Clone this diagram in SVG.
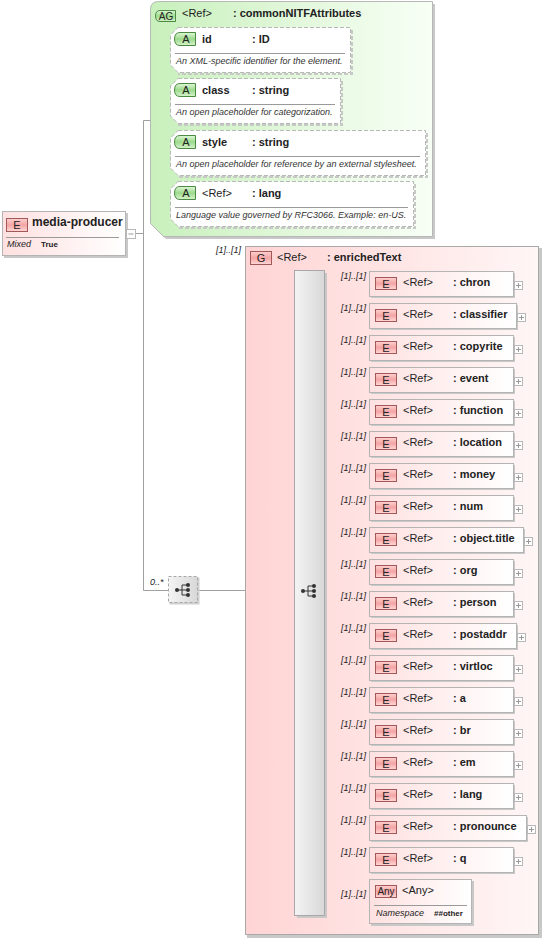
<svg xmlns="http://www.w3.org/2000/svg" width="545" height="941" viewBox="0 0 545 941">
<defs>
<linearGradient id="gAG" x1="0" y1="0" x2="1" y2="0"><stop offset="0" stop-color="#c8f0bc"/><stop offset="0.6" stop-color="#e6f9e0"/><stop offset="1" stop-color="#f8fff6"/></linearGradient>
<linearGradient id="gG" x1="0" y1="0" x2="1" y2="0"><stop offset="0" stop-color="#ffd4d4"/><stop offset="1" stop-color="#fff6f6"/></linearGradient>
<linearGradient id="gE" x1="0" y1="0" x2="1" y2="0"><stop offset="0" stop-color="#ffe0e0"/><stop offset="1" stop-color="#ffffff"/></linearGradient>
<linearGradient id="gBadge" x1="0" y1="0" x2="0" y2="1"><stop offset="0" stop-color="#ffd0d0"/><stop offset="0.5" stop-color="#f4a4a4"/><stop offset="1" stop-color="#ffd8d8"/></linearGradient>
<linearGradient id="gA" x1="0" y1="0" x2="0" y2="1"><stop offset="0" stop-color="#e0f8d8"/><stop offset="0.5" stop-color="#9cda8c"/><stop offset="1" stop-color="#d8f4cc"/></linearGradient>
<linearGradient id="gSeq" x1="0" y1="0" x2="1" y2="0"><stop offset="0" stop-color="#f4f4f4"/><stop offset="1" stop-color="#d8d8d8"/></linearGradient>
<g id="seqIcon">
<path d="M-7,0H-2V5H4M-2,0H4M-2,-5V0M-2,-5H4" fill="none" stroke="#333" stroke-width="1"/>
<circle cx="-7" cy="0" r="2" fill="#333"/>
<circle cx="4" cy="-5" r="2" fill="#333"/>
<circle cx="4" cy="0" r="2" fill="#333"/>
<circle cx="4" cy="5" r="2" fill="#333"/>
</g>
</defs>
<style>
text{font-family:"Liberation Sans",Arial,sans-serif;fill:#222}
.nm{font-size:11px;font-weight:bold}
.ref{font-size:11px}
.bt{font-size:11px;text-anchor:middle}
.mult{font-size:9px;font-style:italic}
.desc{font-size:9px;font-style:italic;fill:#333}
.small{font-size:8px;font-weight:bold}
.lbl{font-size:9px;font-style:italic}
.ln{stroke:#a0a0a0;stroke-width:1;fill:none}
.shd{fill:#c8c8c8}
.ebox{fill:url(#gE);stroke:#b4b4b4;stroke-width:1}
.badge{fill:url(#gBadge);stroke:#a05858;stroke-width:1}
.abadge{fill:url(#gA);stroke:#4c8a44;stroke-width:1}
.plus{fill:#fff;stroke:#b8b8b8;stroke-width:1}
.pl{stroke:#999;stroke-width:1}
.abox{fill:#fff;stroke:#b8b8b8;stroke-width:1;stroke-dasharray:4,2}
.ashd{fill:none;stroke:#c8c8c8;stroke-width:2;stroke-dasharray:4,2}
.sep{stroke:#9a9a9a;stroke-width:1}
</style>

<!-- connectors -->
<g id="connectors">
<path class="ln" d="M135.5,233.5H143.5M143.5,120.5V590.5M143.5,120.5H160.5M160.5,49.5V203.5M160.5,49.5H170M160.5,100.5H170M160.5,152.5H170M160.5,203.5H170M143.5,590.5H168M198,590.5H295"/>
<text class="lbl" x="150" y="585">0..*</text>
<text class="mult" x="265" y="587">[1]..[1]</text>
<path class="ln" d="M324,283.5H369M324,315.5H369M324,347.5H369M324,379.5H369M324,411.5H369M324,443.5H369M324,475.5H369M324,507.5H369M324,539.5H369M324,571.5H369M324,603.5H369M324,635.5H369M324,667.5H369M324,699.5H369M324,731.5H369M324,763.5H369M324,795.5H369M324,827.5H369M324,859.5H369M324,901.5H369"/>
</g>

<!-- media-producer -->
<g id="media-producer">
<rect class="shd" x="4" y="213" width="124" height="45"/>
<rect class="ebox" x="2.5" y="211.5" width="123" height="44"/>
<rect class="badge" x="6.5" y="218.5" width="21" height="13"/>
<text class="bt" x="17" y="229">E</text>
<text class="nm" x="32" y="226" style="font-size:12px">media-producer</text>
<line class="sep" x1="6" y1="237.5" x2="119" y2="237.5"/>
<text class="lbl" x="7" y="247">Mixed</text>
<text class="small" x="41" y="247">True</text>
<rect class="plus" x="126.5" y="229.5" width="9" height="9"/>
<path class="pl" d="M128.5,234H133.5"/>
</g>

<!-- attribute group -->
<g id="commonNITFAttributes">
<path d="M161,4H435V239H166L153,226V12Q153,4 161,4Z" fill="#c8c8c8"/>
<path d="M158.5,1.5H432.5V236.5H163.5L150.5,223.5V9.5Q150.5,1.5 158.5,1.5Z" fill="url(#gAG)" stroke="#b8b8b8"/>
<path d="M160,10.5H175.5V21.5H160Q155.5,21.5 155.5,16Q155.5,10.5 160,10.5Z" class="abadge"/>
<text class="bt" x="166" y="20" style="font-size:10px">AG</text>
<text class="ref" x="182" y="17">&lt;Ref&gt;</text>
<text class="nm" x="233" y="17">: commonNITFAttributes</text>
</g>

<g id="attr-id" transform="translate(0,27)">
<path class="ashd" d="M352,3V47H178"/>
<path class="abox" d="M178,0.5H350.5V45.5H178L170.5,38V8Z"/>
<path class="abadge" d="M180,5.5H195.5V18.5H180Q174.5,18.5 174.5,12Q174.5,5.5 180,5.5Z"/>
<text class="bt" x="186" y="16">A</text>
<text class="nm" x="202" y="16">id</text>
<text class="nm" x="252" y="16">: ID</text>
<line class="sep" x1="175" y1="26.5" x2="345" y2="26.5"/>
<text class="desc" x="176" y="37">An XML-specific identifier for the element.</text>
</g>

<g id="attr-class" transform="translate(0,78)">
<path class="ashd" d="M342,3V47H178"/>
<path class="abox" d="M178,0.5H340.5V45.5H178L170.5,38V8Z"/>
<path class="abadge" d="M180,5.5H195.5V18.5H180Q174.5,18.5 174.5,12Q174.5,5.5 180,5.5Z"/>
<text class="bt" x="186" y="16">A</text>
<text class="nm" x="202" y="16">class</text>
<text class="nm" x="252" y="16">: string</text>
<line class="sep" x1="175" y1="26.5" x2="335" y2="26.5"/>
<text class="desc" x="176" y="37">An open placeholder for categorization.</text>
</g>

<g id="attr-style" transform="translate(0,130)">
<path class="ashd" d="M427,3V47H178"/>
<path class="abox" d="M178,0.5H425.5V45.5H178L170.5,38V8Z"/>
<path class="abadge" d="M180,5.5H195.5V18.5H180Q174.5,18.5 174.5,12Q174.5,5.5 180,5.5Z"/>
<text class="bt" x="186" y="16">A</text>
<text class="nm" x="202" y="16">style</text>
<text class="nm" x="252" y="16">: string</text>
<line class="sep" x1="175" y1="26.5" x2="420" y2="26.5"/>
<text class="desc" x="176" y="37">An open placeholder for reference by an external stylesheet.</text>
</g>

<g id="attr-lang" transform="translate(0,181)">
<path class="ashd" d="M415,3V47H178"/>
<path class="abox" d="M178,0.5H413.5V45.5H178L170.5,38V8Z"/>
<path class="abadge" d="M180,5.5H195.5V18.5H180Q174.5,18.5 174.5,12Q174.5,5.5 180,5.5Z"/>
<text class="bt" x="186" y="16">A</text>
<text class="ref" x="202" y="16">&lt;Ref&gt;</text>
<text class="nm" x="252" y="16">: lang</text>
<line class="sep" x1="175" y1="26.5" x2="408" y2="26.5"/>
<text class="desc" x="176" y="37">Language value governed by RFC3066. Example: en-US.</text>
</g>

<!-- choice -->
<g id="choice">
<rect x="169.5" y="577.5" width="30" height="27" fill="#d0d0d0"/>
<rect x="168.5" y="576.5" width="29" height="26" fill="url(#gSeq)" stroke="#a8a8a8" stroke-dasharray="3,2"/>
<use href="#seqIcon" x="184" y="590"/>
</g>

<!-- enrichedText group -->
<g id="enrichedText">
<text class="mult" x="216" y="253">[1]..[1]</text>
<rect x="247" y="248" width="295" height="690" fill="#c8c8c8"/>
<rect x="245.5" y="246.5" width="293" height="688" fill="url(#gG)" stroke="#a8a8a8"/>
<rect class="badge" x="250.5" y="251.5" width="21" height="13"/>
<text class="bt" x="261" y="262">G</text>
<text class="ref" x="277" y="261">&lt;Ref&gt;</text>
<text class="nm" x="327" y="261">: enrichedText</text>
</g>

<g id="sequence">
<rect x="297" y="273" width="30" height="645" fill="#c8c8c8"/>
<rect x="294.5" y="270.5" width="30" height="645" fill="url(#gSeq)" stroke="#a8a8a8"/>
<use href="#seqIcon" x="310" y="591"/>
</g>

<g id="el-chron" transform="translate(0,283)"><text class="mult" x="341" y="-4">[1]..[1]</text><rect class="shd" x="371" y="-10" width="144" height="25"/><rect class="ebox" x="369.5" y="-11.5" width="144" height="25"/><rect class="badge" x="375.5" y="-5.5" width="21" height="12"/><text class="bt" x="386" y="5">E</text><text class="ref" x="403" y="3">&lt;Ref&gt;</text><text class="nm" x="453" y="3">: chron</text><rect class="plus" x="514.5" y="-1.5" width="8" height="8"/><path class="pl" d="M516,2.5h5M518.5,0v5"/></g>
<g id="el-classifier" transform="translate(0,315)"><text class="mult" x="341" y="-4">[1]..[1]</text><rect class="shd" x="371" y="-10" width="147" height="25"/><rect class="ebox" x="369.5" y="-11.5" width="147" height="25"/><rect class="badge" x="375.5" y="-5.5" width="21" height="12"/><text class="bt" x="386" y="5">E</text><text class="ref" x="403" y="3">&lt;Ref&gt;</text><text class="nm" x="453" y="3">: classifier</text><rect class="plus" x="517.5" y="-1.5" width="8" height="8"/><path class="pl" d="M519,2.5h5M521.5,0v5"/></g>
<g id="el-copyrite" transform="translate(0,347)"><text class="mult" x="341" y="-4">[1]..[1]</text><rect class="shd" x="371" y="-10" width="144" height="25"/><rect class="ebox" x="369.5" y="-11.5" width="144" height="25"/><rect class="badge" x="375.5" y="-5.5" width="21" height="12"/><text class="bt" x="386" y="5">E</text><text class="ref" x="403" y="3">&lt;Ref&gt;</text><text class="nm" x="453" y="3">: copyrite</text><rect class="plus" x="514.5" y="-1.5" width="8" height="8"/><path class="pl" d="M516,2.5h5M518.5,0v5"/></g>
<g id="el-event" transform="translate(0,379)"><text class="mult" x="341" y="-4">[1]..[1]</text><rect class="shd" x="371" y="-10" width="144" height="25"/><rect class="ebox" x="369.5" y="-11.5" width="144" height="25"/><rect class="badge" x="375.5" y="-5.5" width="21" height="12"/><text class="bt" x="386" y="5">E</text><text class="ref" x="403" y="3">&lt;Ref&gt;</text><text class="nm" x="453" y="3">: event</text><rect class="plus" x="514.5" y="-1.5" width="8" height="8"/><path class="pl" d="M516,2.5h5M518.5,0v5"/></g>
<g id="el-function" transform="translate(0,411)"><text class="mult" x="341" y="-4">[1]..[1]</text><rect class="shd" x="371" y="-10" width="144" height="25"/><rect class="ebox" x="369.5" y="-11.5" width="144" height="25"/><rect class="badge" x="375.5" y="-5.5" width="21" height="12"/><text class="bt" x="386" y="5">E</text><text class="ref" x="403" y="3">&lt;Ref&gt;</text><text class="nm" x="453" y="3">: function</text><rect class="plus" x="514.5" y="-1.5" width="8" height="8"/><path class="pl" d="M516,2.5h5M518.5,0v5"/></g>
<g id="el-location" transform="translate(0,443)"><text class="mult" x="341" y="-4">[1]..[1]</text><rect class="shd" x="371" y="-10" width="144" height="25"/><rect class="ebox" x="369.5" y="-11.5" width="144" height="25"/><rect class="badge" x="375.5" y="-5.5" width="21" height="12"/><text class="bt" x="386" y="5">E</text><text class="ref" x="403" y="3">&lt;Ref&gt;</text><text class="nm" x="453" y="3">: location</text><rect class="plus" x="514.5" y="-1.5" width="8" height="8"/><path class="pl" d="M516,2.5h5M518.5,0v5"/></g>
<g id="el-money" transform="translate(0,475)"><text class="mult" x="341" y="-4">[1]..[1]</text><rect class="shd" x="371" y="-10" width="144" height="25"/><rect class="ebox" x="369.5" y="-11.5" width="144" height="25"/><rect class="badge" x="375.5" y="-5.5" width="21" height="12"/><text class="bt" x="386" y="5">E</text><text class="ref" x="403" y="3">&lt;Ref&gt;</text><text class="nm" x="453" y="3">: money</text><rect class="plus" x="514.5" y="-1.5" width="8" height="8"/><path class="pl" d="M516,2.5h5M518.5,0v5"/></g>
<g id="el-num" transform="translate(0,507)"><text class="mult" x="341" y="-4">[1]..[1]</text><rect class="shd" x="371" y="-10" width="144" height="25"/><rect class="ebox" x="369.5" y="-11.5" width="144" height="25"/><rect class="badge" x="375.5" y="-5.5" width="21" height="12"/><text class="bt" x="386" y="5">E</text><text class="ref" x="403" y="3">&lt;Ref&gt;</text><text class="nm" x="453" y="3">: num</text><rect class="plus" x="514.5" y="-1.5" width="8" height="8"/><path class="pl" d="M516,2.5h5M518.5,0v5"/></g>
<g id="el-object-title" transform="translate(0,539)"><text class="mult" x="341" y="-4">[1]..[1]</text><rect class="shd" x="371" y="-10" width="154" height="25"/><rect class="ebox" x="369.5" y="-11.5" width="154" height="25"/><rect class="badge" x="375.5" y="-5.5" width="21" height="12"/><text class="bt" x="386" y="5">E</text><text class="ref" x="403" y="3">&lt;Ref&gt;</text><text class="nm" x="453" y="3">: object.title</text><rect class="plus" x="524.5" y="-1.5" width="8" height="8"/><path class="pl" d="M526,2.5h5M528.5,0v5"/></g>
<g id="el-org" transform="translate(0,571)"><text class="mult" x="341" y="-4">[1]..[1]</text><rect class="shd" x="371" y="-10" width="144" height="25"/><rect class="ebox" x="369.5" y="-11.5" width="144" height="25"/><rect class="badge" x="375.5" y="-5.5" width="21" height="12"/><text class="bt" x="386" y="5">E</text><text class="ref" x="403" y="3">&lt;Ref&gt;</text><text class="nm" x="453" y="3">: org</text><rect class="plus" x="514.5" y="-1.5" width="8" height="8"/><path class="pl" d="M516,2.5h5M518.5,0v5"/></g>
<g id="el-person" transform="translate(0,603)"><text class="mult" x="341" y="-4">[1]..[1]</text><rect class="shd" x="371" y="-10" width="144" height="25"/><rect class="ebox" x="369.5" y="-11.5" width="144" height="25"/><rect class="badge" x="375.5" y="-5.5" width="21" height="12"/><text class="bt" x="386" y="5">E</text><text class="ref" x="403" y="3">&lt;Ref&gt;</text><text class="nm" x="453" y="3">: person</text><rect class="plus" x="514.5" y="-1.5" width="8" height="8"/><path class="pl" d="M516,2.5h5M518.5,0v5"/></g>
<g id="el-postaddr" transform="translate(0,635)"><text class="mult" x="341" y="-4">[1]..[1]</text><rect class="shd" x="371" y="-10" width="147" height="25"/><rect class="ebox" x="369.5" y="-11.5" width="147" height="25"/><rect class="badge" x="375.5" y="-5.5" width="21" height="12"/><text class="bt" x="386" y="5">E</text><text class="ref" x="403" y="3">&lt;Ref&gt;</text><text class="nm" x="453" y="3">: postaddr</text><rect class="plus" x="517.5" y="-1.5" width="8" height="8"/><path class="pl" d="M519,2.5h5M521.5,0v5"/></g>
<g id="el-virtloc" transform="translate(0,667)"><text class="mult" x="341" y="-4">[1]..[1]</text><rect class="shd" x="371" y="-10" width="144" height="25"/><rect class="ebox" x="369.5" y="-11.5" width="144" height="25"/><rect class="badge" x="375.5" y="-5.5" width="21" height="12"/><text class="bt" x="386" y="5">E</text><text class="ref" x="403" y="3">&lt;Ref&gt;</text><text class="nm" x="453" y="3">: virtloc</text><rect class="plus" x="514.5" y="-1.5" width="8" height="8"/><path class="pl" d="M516,2.5h5M518.5,0v5"/></g>
<g id="el-a" transform="translate(0,699)"><text class="mult" x="341" y="-4">[1]..[1]</text><rect class="shd" x="371" y="-10" width="144" height="25"/><rect class="ebox" x="369.5" y="-11.5" width="144" height="25"/><rect class="badge" x="375.5" y="-5.5" width="21" height="12"/><text class="bt" x="386" y="5">E</text><text class="ref" x="403" y="3">&lt;Ref&gt;</text><text class="nm" x="453" y="3">: a</text><rect class="plus" x="514.5" y="-1.5" width="8" height="8"/><path class="pl" d="M516,2.5h5M518.5,0v5"/></g>
<g id="el-br" transform="translate(0,731)"><text class="mult" x="341" y="-4">[1]..[1]</text><rect class="shd" x="371" y="-10" width="144" height="25"/><rect class="ebox" x="369.5" y="-11.5" width="144" height="25"/><rect class="badge" x="375.5" y="-5.5" width="21" height="12"/><text class="bt" x="386" y="5">E</text><text class="ref" x="403" y="3">&lt;Ref&gt;</text><text class="nm" x="453" y="3">: br</text><rect class="plus" x="514.5" y="-1.5" width="8" height="8"/><path class="pl" d="M516,2.5h5M518.5,0v5"/></g>
<g id="el-em" transform="translate(0,763)"><text class="mult" x="341" y="-4">[1]..[1]</text><rect class="shd" x="371" y="-10" width="144" height="25"/><rect class="ebox" x="369.5" y="-11.5" width="144" height="25"/><rect class="badge" x="375.5" y="-5.5" width="21" height="12"/><text class="bt" x="386" y="5">E</text><text class="ref" x="403" y="3">&lt;Ref&gt;</text><text class="nm" x="453" y="3">: em</text><rect class="plus" x="514.5" y="-1.5" width="8" height="8"/><path class="pl" d="M516,2.5h5M518.5,0v5"/></g>
<g id="el-lang" transform="translate(0,795)"><text class="mult" x="341" y="-4">[1]..[1]</text><rect class="shd" x="371" y="-10" width="144" height="25"/><rect class="ebox" x="369.5" y="-11.5" width="144" height="25"/><rect class="badge" x="375.5" y="-5.5" width="21" height="12"/><text class="bt" x="386" y="5">E</text><text class="ref" x="403" y="3">&lt;Ref&gt;</text><text class="nm" x="453" y="3">: lang</text><rect class="plus" x="514.5" y="-1.5" width="8" height="8"/><path class="pl" d="M516,2.5h5M518.5,0v5"/></g>
<g id="el-pronounce" transform="translate(0,827)"><text class="mult" x="341" y="-4">[1]..[1]</text><rect class="shd" x="371" y="-10" width="157" height="25"/><rect class="ebox" x="369.5" y="-11.5" width="157" height="25"/><rect class="badge" x="375.5" y="-5.5" width="21" height="12"/><text class="bt" x="386" y="5">E</text><text class="ref" x="403" y="3">&lt;Ref&gt;</text><text class="nm" x="453" y="3">: pronounce</text><rect class="plus" x="527.5" y="-1.5" width="8" height="8"/><path class="pl" d="M529,2.5h5M531.5,0v5"/></g>
<g id="el-q" transform="translate(0,859)"><text class="mult" x="341" y="-4">[1]..[1]</text><rect class="shd" x="371" y="-10" width="144" height="25"/><rect class="ebox" x="369.5" y="-11.5" width="144" height="25"/><rect class="badge" x="375.5" y="-5.5" width="21" height="12"/><text class="bt" x="386" y="5">E</text><text class="ref" x="403" y="3">&lt;Ref&gt;</text><text class="nm" x="453" y="3">: q</text><rect class="plus" x="514.5" y="-1.5" width="8" height="8"/><path class="pl" d="M516,2.5h5M518.5,0v5"/></g>

<g id="any">
<text class="mult" x="341" y="897">[1]..[1]</text>
<rect class="shd" x="371" y="881" width="103" height="45"/>
<rect class="ebox" x="369.5" y="879.5" width="102" height="44"/>
<rect class="badge" x="375.5" y="885.5" width="21" height="12"/>
<text class="bt" x="386" y="895" style="font-size:10px">Any</text>
<text class="ref" x="402" y="894">&lt;Any&gt;</text>
<line class="sep" x1="374" y1="905.5" x2="467" y2="905.5"/>
<text class="lbl" x="376" y="916">Namespace</text>
<text class="small" x="434" y="916">##other</text>
</g>
</svg>
